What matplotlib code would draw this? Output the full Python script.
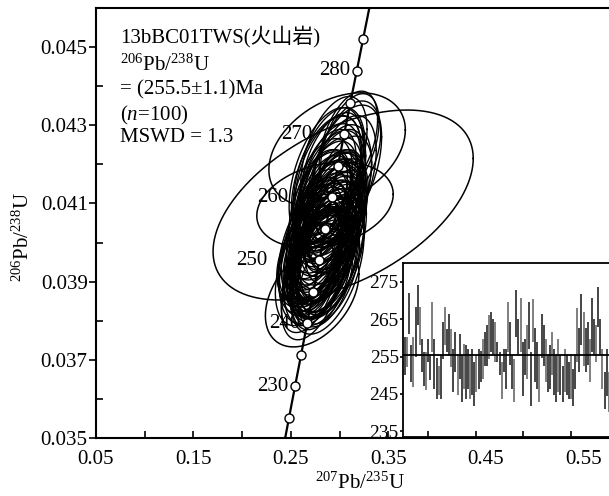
import numpy as np
import matplotlib
matplotlib.use('Agg')
import matplotlib.pyplot as plt
from matplotlib.transforms import offset_copy

plt.rcParams['font.family'] = ['Liberation Serif', 'Noto Sans CJK SC']
plt.rcParams['mathtext.fontset'] = 'custom'
plt.rcParams['mathtext.rm'] = 'Liberation Serif'
plt.rcParams['mathtext.it'] = 'Liberation Serif:italic'

# ---------------- data ----------------
L238 = 1.55125e-4   # decay constant, 1/Ma
L235 = 9.8485e-4

# 206Pb/238U ages (Ma) and 1-sigma errors of the 100 analyses (inset)
ages = [255.1, 256.2, 266.5, 253.1, 253.5, 261.6, 268.7, 263.1, 255.3, 251.7,
        251.1, 256.7, 252.0, 262.9, 253.1, 249.1, 248.6, 249.5, 259.3, 263.1,
        259.3, 260.9, 257.3, 251.3, 256.2, 250.0, 255.1, 249.1, 252.4, 250.8,
        251.7, 249.5, 250.8, 247.7, 250.4, 251.7, 252.4, 254.4, 257.1, 258.0,
        260.2, 261.6, 260.2, 258.9, 256.2, 253.1, 248.6, 254.0, 251.7, 262.9,
        258.5, 250.8, 248.6, 266.5, 260.2, 263.4, 251.7, 254.9, 256.2, 263.4,
        249.1, 264.7, 255.3, 252.6, 249.1, 260.5, 258.0, 254.0, 250.4, 252.2,
        255.8, 250.8, 249.1, 252.6, 250.0, 247.7, 251.3, 250.0, 248.6, 249.5,
        246.8, 250.8, 260.7, 256.7, 264.9, 259.8, 256.7, 258.5, 254.0, 263.4,
        260.2, 258.5, 268.3, 260.2, 251.7, 245.9, 250.8, 245.5, 254.4, 258.5]
age_err = [5.1, 4.0, 5.4, 4.9, 6.7, 6.7, 5.4, 5.1, 4.5, 4.5,
           5.1, 3.1, 3.4, 6.7, 6.7, 5.4, 4.0, 5.8, 4.9, 5.1,
           3.1, 5.6, 5.1, 5.8, 5.4, 5.4, 6.0, 6.3, 6.0, 7.2,
           5.4, 5.8, 6.1, 5.8, 4.9, 5.4, 4.2, 5.4, 4.5, 5.4,
           5.8, 5.4, 4.9, 5.4, 2.7, 3.1, 4.9, 3.0, 5.4, 6.7,
           5.8, 4.5, 5.8, 6.3, 4.9, 7.2, 7.2, 4.9, 7.2, 6.3,
           7.2, 5.8, 7.2, 6.3, 6.3, 6.0, 5.4, 5.8, 4.9, 5.8,
           5.8, 6.1, 6.3, 7.2, 5.4, 4.9, 5.8, 5.4, 4.9, 5.8,
           4.9, 4.5, 7.2, 5.8, 6.9, 7.2, 5.8, 5.8, 5.8, 7.2,
           4.9, 4.9, 5.4, 4.9, 5.4, 4.9, 6.3, 5.4, 7.2, 5.8]
# 207Pb/235U half-widths of the error ellipses
sx207 = [0.030, 0.028, 0.034, 0.026, 0.036, 0.032, 0.030, 0.029, 0.027, 0.031,
         0.033, 0.024, 0.025, 0.035, 0.034, 0.030, 0.027, 0.032, 0.028, 0.030,
         0.025, 0.031, 0.029, 0.033, 0.030, 0.031, 0.034, 0.035, 0.032, 0.038,
         0.030, 0.032, 0.033, 0.031, 0.028, 0.030, 0.026, 0.030, 0.027, 0.030,
         0.032, 0.030, 0.028, 0.031, 0.024, 0.025, 0.029, 0.024, 0.030, 0.036,
         0.032, 0.027, 0.032, 0.034, 0.028, 0.038, 0.037, 0.028, 0.037, 0.034,
         0.038, 0.032, 0.037, 0.034, 0.034, 0.033, 0.030, 0.032, 0.028, 0.032,
         0.032, 0.033, 0.034, 0.037, 0.030, 0.028, 0.032, 0.030, 0.028, 0.032,
         0.028, 0.027, 0.037, 0.032, 0.036, 0.037, 0.032, 0.032, 0.032, 0.037,
         0.028, 0.028, 0.030, 0.028, 0.030, 0.028, 0.034, 0.030, 0.037, 0.032]
# 207Pb/235U offsets of the ellipse centres from the concordia
dx207 = [0.004, -0.006, 0.008, -0.010, 0.002, -0.004, 0.006, -0.008, 0.010, -0.002,
         -0.012, 0.005, -0.003, 0.007, -0.009, 0.003, -0.005, 0.009, -0.007, 0.001,
         0.006, -0.011, 0.004, -0.006, 0.011, -0.002, 0.003, -0.009, 0.007, -0.004,
         -0.008, 0.002, -0.010, 0.005, -0.001, 0.008, -0.006, 0.010, -0.003, 0.004,
         -0.005, 0.009, -0.012, 0.003, -0.002, 0.006, -0.007, 0.001, 0.008, -0.009,
         0.005, -0.004, 0.011, -0.006, 0.002, -0.010, 0.007, -0.003, 0.004, -0.008,
         0.009, -0.005, 0.001, -0.011, 0.006, -0.002, 0.010, -0.007, 0.003, -0.004,
         -0.009, 0.005, -0.001, 0.008, -0.006, 0.002, -0.012, 0.007, -0.003, 0.004,
         0.010, -0.008, 0.003, -0.005, 0.009, -0.002, 0.006, -0.010, 0.001, -0.007,
         0.005, -0.004, 0.008, -0.009, 0.002, -0.006, 0.011, -0.003, 0.004, -0.001]
rho = 0.45
sy_scale = 1.5

# a few analyses with large error ellipses
big_x = [0.3036, 0.2974, 0.2850, 0.2718]
big_y = [0.04096, 0.04237, 0.04096, 0.03866]
big_sx = [0.1335, 0.070, 0.070, 0.048]
big_sy = [0.00243, 0.00146, 0.00110, 0.00133]
big_rho = [0.49, 0.35, 0.25, 0.40]

mark_ages = list(range(225, 290, 5))
label_ages = [230, 240, 250, 260, 270, 280]
label_dx = {230: -7, 240: -7, 250: -52, 260: -43, 270: -32, 280: -6}   # px

mean_age = 255.5

x_ticks = [0.05, 0.15, 0.25, 0.35, 0.45, 0.55]
y_ticks = [0.035, 0.037, 0.039, 0.041, 0.043, 0.045]
inset_yticks = [235, 245, 255, 265, 275]

# ---------------- figure ----------------
W, H = 609, 496
fig = plt.figure(figsize=(W / 100, H / 100), dpi=100)

def pos(l, t, r, b):
    return [l / W, (H - b) / H, (r - l) / W, (b - t) / H]

ax = fig.add_axes(pos(96, 8, 632, 438))
ax.set_xlim(0.05, 0.60)
ax.set_ylim(0.035, 0.046)

th = np.linspace(0, 2 * np.pi, 240)

def ellipse(cx, cy, sx, sy, r):
    x = cx + sx * np.cos(th)
    y = cy + sy * (r * np.cos(th) + np.sqrt(1 - r * r) * np.sin(th))
    return x, y

ages_a = np.array(ages)
err_a = np.array(age_err)
cy = np.exp(L238 * ages_a) - 1
cx = np.exp(L235 * ages_a) - 1 + np.array(dx207)
sy = err_a * L238 * np.exp(L238 * ages_a) * sy_scale
for i in range(len(ages)):
    x, y = ellipse(cx[i], cy[i], sx207[i], sy[i], rho)
    ax.plot(x, y, color='black', lw=1.0, zorder=2)
for i in range(len(big_x)):
    x, y = ellipse(big_x[i], big_y[i], big_sx[i], big_sy[i], big_rho[i])
    ax.plot(x, y, color='black', lw=1.1, zorder=2)

# concordia
t = np.linspace(200, 300, 400)
ax.plot(np.exp(L235 * t) - 1, np.exp(L238 * t) - 1, color='black', lw=1.6, zorder=3)
ma = np.array(mark_ages, dtype=float)
ax.plot(np.exp(L235 * ma) - 1, np.exp(L238 * ma) - 1, 'o', ms=6.5, mfc='white',
        mec='black', mew=1.0, zorder=4)
for a in label_ages:
    tr = offset_copy(ax.transData, fig=fig, x=label_dx[a] * 0.72, y=0, units='points')
    ax.text(np.exp(L235 * a) - 1, np.exp(L238 * a) - 1, str(a), transform=tr,
            ha='right', va='center', fontsize=15, zorder=5)

ax.set_xticks(x_ticks)
ax.set_xticklabels([f'{v:.2f}' for v in x_ticks])
ax.set_xticks(np.arange(0.10, 0.60, 0.10), minor=True)
ax.set_yticks(y_ticks)
ax.set_yticklabels([f'{v:.3f}' for v in y_ticks])
ax.set_yticks(np.arange(0.036, 0.0461, 0.002), minor=True)
ax.tick_params(axis='x', which='both', direction='in', length=5, width=1.2,
               labelsize=15, pad=9)
ax.tick_params(axis='y', which='major', direction='out', length=5, width=1.2,
               labelsize=15, pad=1)
ax.tick_params(axis='y', which='minor', direction='in', length=5, width=1.2)
for s in ax.spines.values():
    s.set_linewidth(1.5)

ax.set_xlabel(r'$^{207}$Pb/$^{235}$U', fontsize=15)
ax.xaxis.set_label_coords((360 - 96) / 536, (438 - 473) / 430)
ax.set_ylabel(r'$^{206}$Pb/$^{238}$U', fontsize=15)
ax.yaxis.set_label_coords((34 - 96) / 536, (438 - 237) / 430)

# text block
tx = (120 - 96) / 536
lines = ['13bBC01TWS(火山岩)', r'$^{206}$Pb/$^{238}$U', '= (255.5±1.1)Ma',
         r'($n$=100)', 'MSWD = 1.3']
ys = [37, 65, 90, 115, 138]
for s, yy in zip(lines, ys):
    ax.text(tx, (438 - yy) / 430, s, transform=ax.transAxes, ha='left',
            va='center', fontsize=15, zorder=6)

# inset
ax2 = fig.add_axes(pos(403, 263, 615, 437))
ax2.set_zorder(10)
ax2.set_facecolor('white')
idx = np.arange(1, len(ages) + 1)
bar_colors = ['#6a6a6a' if i % 3 == 1 else '#262626' for i in range(len(ages))]
ax2.vlines(idx, ages_a - err_a, ages_a + err_a, colors=bar_colors, lw=1.2)
ax2.axhline(mean_age, color='black', lw=1.3)
ax2.set_xlim(0, 101)
ax2.set_ylim(233.5, 280)
ax2.set_yticks(inset_yticks)
ax2.set_xticks([12, 35, 57, 80])
ax2.set_xticklabels([])
ax2.tick_params(axis='both', direction='in', length=4, width=1.2, labelsize=14, pad=1)
ax2.tick_params(axis='y', direction='out', length=2)
for s in ax2.spines.values():
    s.set_linewidth(1.3)

fig.savefig('out.png', dpi=100)
